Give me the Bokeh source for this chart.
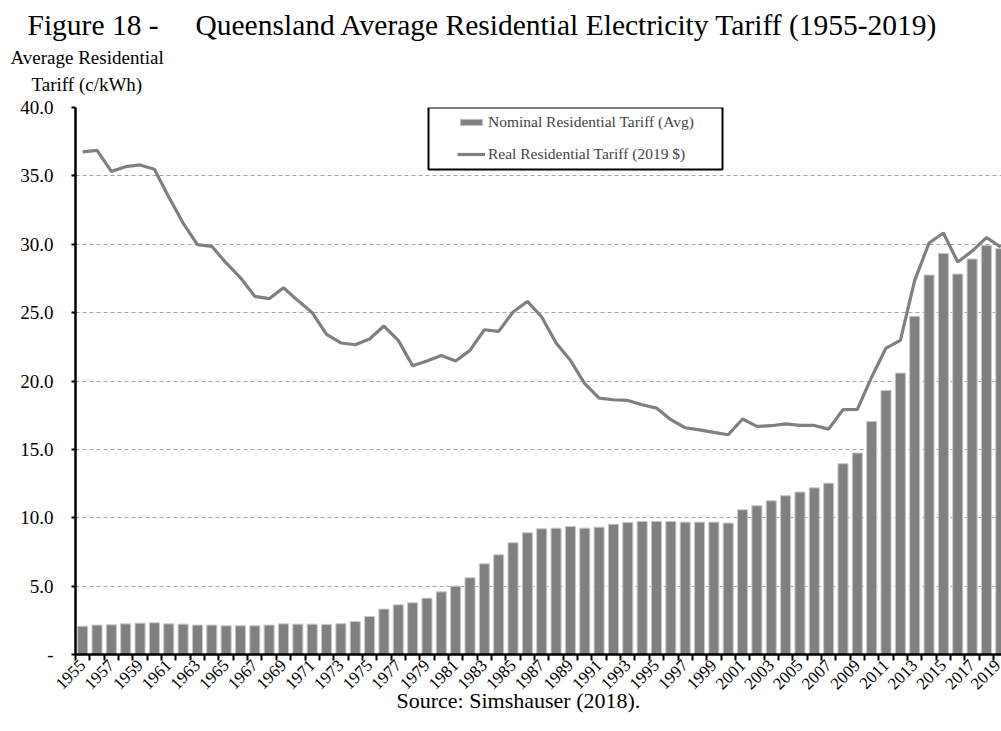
import math
from bokeh.plotting import figure
from bokeh.models import (ColumnDataSource, FixedTicker, Legend, LegendItem, Title,
                          BoxAnnotation, NumeralTickFormatter, Range1d)
from bokeh.embed import file_html
from bokeh.resources import INLINE

years = list(range(1955, 2020))
nominal = [2.07, 2.15, 2.17, 2.24, 2.29, 2.32, 2.24, 2.22, 2.15, 2.15,
           2.10, 2.10, 2.10, 2.15, 2.24, 2.22, 2.22, 2.20, 2.25, 2.41,
           2.78, 3.32, 3.63, 3.78, 4.12, 4.58, 5.00, 5.61, 6.63, 7.29,
           8.17, 8.90, 9.19, 9.24, 9.36, 9.24, 9.31, 9.53, 9.66, 9.73,
           9.73, 9.73, 9.68, 9.68, 9.68, 9.61, 10.58, 10.88, 11.24, 11.61,
           11.88, 12.19, 12.53, 13.95, 14.73, 17.04, 19.31, 20.58, 24.73, 27.75,
           29.33, 27.82, 28.92, 29.90, 29.68]
real = [36.75, 36.87, 35.33, 35.67, 35.80, 35.48, 33.46, 31.55, 29.97, 29.85,
        28.63, 27.55, 26.19, 26.02, 26.82, 25.88, 25.00, 23.41, 22.78, 22.65,
        23.07, 24.02, 22.97, 21.12, 21.46, 21.87, 21.46, 22.24, 23.75, 23.63,
        25.04, 25.82, 24.68, 22.78, 21.51, 19.80, 18.75, 18.63, 18.58, 18.26,
        18.02, 17.17, 16.58, 16.43, 16.24, 16.07, 17.22, 16.68, 16.73, 16.87,
        16.75, 16.75, 16.48, 17.90, 17.92, 20.29, 22.41, 22.97, 27.36, 30.09,
        30.82, 28.70, 29.50, 30.48, 29.80]
x_label_years = years[::2]
y_ticks = [0, 5, 10, 15, 20, 25, 30, 35, 40]

series_names = ["Nominal Residential Tariff (Avg)", "Real Residential Tariff (2019 $)"]
title_text = "Figure 18 -\u2003 Queensland Average Residential Electricity Tariff (1955-2019)"
ytitle_lines = ["Average Residential", "Tariff (c/kWh)"]
source_text = "Source:  Simshauser (2018)."

FONT = "Liberation Serif"
GRAY = "#808080"

src = ColumnDataSource(dict(year=years, nominal=nominal, real=real))

p = figure(width=1001, height=731, output_backend="svg", toolbar_location=None,
           x_range=Range1d(1954.5, 2019.05), y_range=Range1d(0, 40),
           min_border_left=75, min_border_right=0, min_border_top=107, min_border_bottom=77)
p.outline_line_color = None
p.background_fill_color = "white"
p.border_fill_color = "white"

bars = p.vbar(x="year", top="nominal", width=0.7, source=src,
              fill_color=GRAY, line_color="#c8c8c8", line_width=1)
line = p.line(x="year", y="real", source=src, line_color=GRAY, line_width=3.2)

# grids
p.xgrid.grid_line_color = None
p.ygrid.grid_line_color = "#a6a6a6"
p.ygrid.grid_line_dash = "4 3"
p.ygrid.grid_line_width = 1

# y axis
p.yaxis.ticker = FixedTicker(ticks=y_ticks)
p.yaxis.formatter = NumeralTickFormatter(format="0.0")
p.yaxis.major_label_overrides = {0: "-"}
p.yaxis.axis_line_width = 2.5
p.yaxis.axis_line_color = "black"
p.yaxis.major_tick_in = 0
p.yaxis.major_tick_out = 4
p.yaxis.major_tick_line_width = 2
p.yaxis.minor_tick_line_color = None
p.yaxis.major_label_standoff = 18
p.yaxis.major_label_text_font = FONT
p.yaxis.major_label_text_font_size = "19px"
p.yaxis.major_label_text_color = "black"

# x axis
p.xaxis.ticker = FixedTicker(ticks=x_label_years,
                             minor_ticks=[y - 0.5 for y in years] + [years[-1] + 0.5])
p.xaxis.axis_line_width = 2.5
p.xaxis.axis_line_color = "black"
p.xaxis.major_tick_line_color = None
p.xaxis.major_tick_in = 0
p.xaxis.major_tick_out = 6
p.xaxis.minor_tick_in = 0
p.xaxis.minor_tick_out = 6
p.xaxis.minor_tick_line_color = "black"
p.xaxis.minor_tick_line_width = 2
p.xaxis.major_label_orientation = math.pi / 4
p.xaxis.major_label_standoff = 2
p.xaxis.major_label_text_font = FONT
p.xaxis.major_label_text_font_size = "17px"
p.xaxis.major_label_text_color = "black"

# legend
legend = Legend(items=[LegendItem(label=series_names[0], renderers=[bars]),
                       LegendItem(label=series_names[1], renderers=[line])],
                location=(382, 491), orientation="vertical",
                padding=0, margin=0, spacing=14,
                glyph_width=28, glyph_height=8, label_height=15, label_standoff=3,
                label_text_font=FONT, label_text_font_size="15.5px",
                border_line_color=None, background_fill_alpha=0)
p.add_layout(legend, "center")
p.add_layout(BoxAnnotation(left=353, right=647, bottom=485, top=547,
                           left_units="screen", right_units="screen",
                           bottom_units="screen", top_units="screen",
                           fill_color=None, fill_alpha=0, line_color="black",
                           line_alpha=1, line_width=2, line_dash="solid"))

# texts above the plot (first added sits closest to the plot frame)
def title(text, size, offset, standoff, valign="bottom"):
    return Title(text=text, align="left", offset=offset, standoff=standoff,
                 vertical_align=valign, text_font=FONT, text_font_size=size,
                 text_font_style="normal", text_color="black")

p.add_layout(title(" ", "1px", 0, 9.85), "above")
p.add_layout(title(ytitle_lines[1], "19px", -44, 0), "above")
p.add_layout(title(ytitle_lines[0], "19px", -65, 7.8), "above")
p.add_layout(title(title_text, "29.5px", -48, -1.6), "above")
p.add_layout(title(source_text, "22px", 321, -20, valign="top"), "below")

open("out.html", "w").write(file_html(p, INLINE))
